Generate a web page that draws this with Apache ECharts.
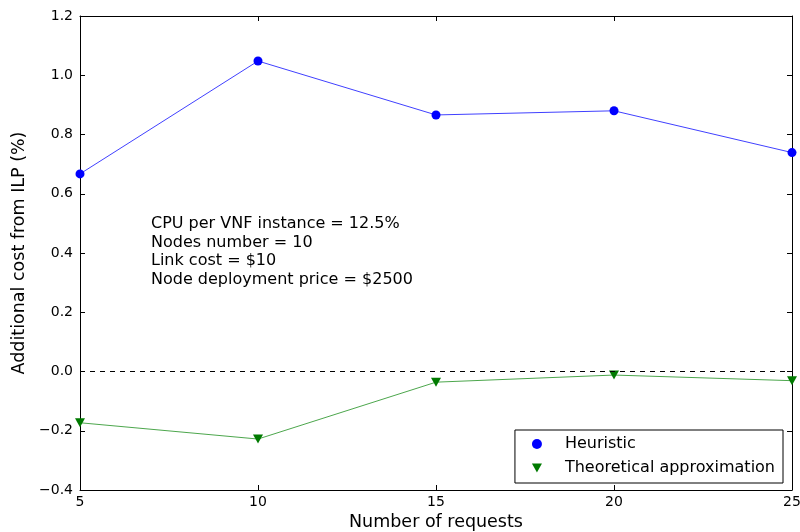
<!DOCTYPE html>
<html>
<head>
<meta charset="utf-8">
<script src="https://cdn.jsdelivr.net/npm/echarts@6/dist/echarts.min.js"></script>
<style>
  html, body { margin: 0; padding: 0; background: #fff; }
  #chart { width: 800px; height: 532px; }
</style>
</head>
<body>
<div id="chart"></div>
<script>
// Number of requests (x values)
const requests = [5, 10, 15, 20, 25];
// Additional cost from ILP (%)
const heuristic = [0.667, 1.048, 0.866, 0.880, 0.739];
const theoretical = [-0.173, -0.228, -0.036, -0.012, -0.031];
const seriesNames = ['Heuristic', 'Theoretical approximation'];
const noteLines = [
  'CPU per VNF instance = 12.5%',
  'Nodes number = 10',
  'Link cost = $10',
  'Node deployment price = $2500'
];

const FONT = 'DejaVu Sans';
const downTriangle = 'path://M0,0 L10,0 L5,9 Z';

const fmtY = v => v.toFixed(1).replace('-', '\u2212');

const chart = echarts.init(document.getElementById('chart'), null, { renderer: 'canvas' });

const tickStyle = { show: true, inside: true, length: 5, lineStyle: { color: '#000', width: 1 } };
const lineAxis = { show: true, onZero: false, lineStyle: { color: '#000', width: 1 } };

chart.setOption({
  animation: false,
  backgroundColor: '#fff',
  textStyle: { fontFamily: FONT },
  grid: { left: 80, right: 8, top: 16, bottom: 42, containLabel: false, outerBoundsMode: 'none' },
  xAxis: [
    {
      type: 'value', min: 5, max: 25, interval: 5,
      name: 'Number of requests', nameLocation: 'middle', nameGap: 23,
      nameTextStyle: { fontFamily: FONT, fontSize: 17.5, color: '#000' },
      axisLine: lineAxis, axisTick: tickStyle,
      axisLabel: { fontFamily: FONT, fontSize: 14, color: '#000', margin: 5 },
      splitLine: { show: false }
    },
    {
      type: 'value', min: 5, max: 25, interval: 5, position: 'top',
      axisLine: lineAxis, axisTick: tickStyle,
      axisLabel: { show: false }, splitLine: { show: false }
    }
  ],
  yAxis: [
    {
      type: 'value', min: -0.4, max: 1.2, interval: 0.2,
      name: 'Additional cost from ILP (%)', nameLocation: 'middle', nameGap: 50,
      nameTextStyle: { fontFamily: FONT, fontSize: 17.5, color: '#000' },
      axisLine: lineAxis, axisTick: tickStyle,
      axisLabel: { fontFamily: FONT, fontSize: 14, color: '#000', margin: 7, formatter: fmtY },
      splitLine: { show: false }
    },
    {
      type: 'value', min: -0.4, max: 1.2, interval: 0.2, position: 'right',
      axisLine: lineAxis, axisTick: tickStyle,
      axisLabel: { show: false }, splitLine: { show: false }
    }
  ],
  legend: {
    orient: 'vertical',
    right: 17, bottom: 49,
    padding: [6, 8, 7, 17],
    itemGap: 8,
    itemWidth: 10, itemHeight: 10,
    backgroundColor: '#fff',
    borderColor: '#000', borderWidth: 1, borderRadius: 0,
    textStyle: { fontFamily: FONT, fontSize: 16, color: '#000', padding: [0, 0, 0, 18] },
    data: [
      { name: seriesNames[0], icon: 'circle' },
      { name: seriesNames[1], icon: downTriangle }
    ]
  },
  graphic: [{
    type: 'text',
    left: 151, top: 215,
    style: {
      text: noteLines.join('\n'),
      font: '16px "' + FONT + '"',
      lineHeight: 18.5,
      fill: '#000'
    }
  }],
  series: [
    {
      name: seriesNames[0], type: 'line',
      data: requests.map((x, i) => [x, heuristic[i]]),
      symbol: 'circle', symbolSize: 9,
      itemStyle: { color: '#0000ff' },
      lineStyle: { color: '#0000ff', width: 1, opacity: 0.75 },
      markLine: {
        silent: true, symbol: 'none', label: { show: false },
        lineStyle: { color: '#000', type: [5, 5], width: 1 },
        data: [{ yAxis: 0 }]
      },
      z: 3
    },
    {
      name: seriesNames[1], type: 'line',
      data: requests.map((x, i) => [x, theoretical[i]]),
      symbol: downTriangle, symbolSize: [10, 9],
      itemStyle: { color: '#007a00' },
      lineStyle: { color: '#008000', width: 1, opacity: 0.7 },
      z: 3
    }
  ]
});
</script>
</body>
</html>
